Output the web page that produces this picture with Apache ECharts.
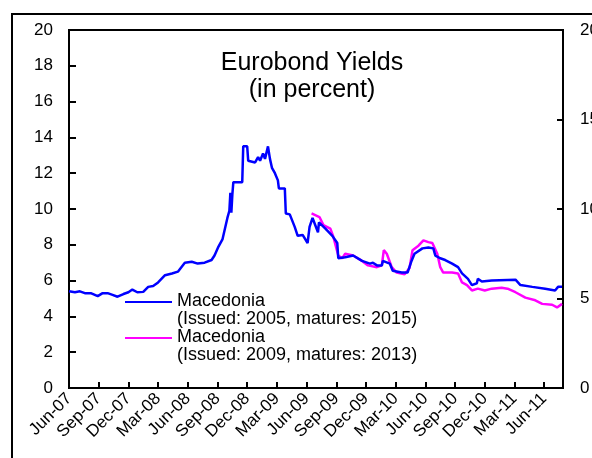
<!DOCTYPE html>
<html>
<head>
<meta charset="utf-8">
<script src="https://cdn.jsdelivr.net/npm/echarts@6/dist/echarts.min.js"></script>
<style>
  html, body { margin: 0; padding: 0; background: #fff; }
  #main { width: 592px; height: 458px; }
</style>
</head>
<body>
<div id="main"></div>
<script>
// x = months since Jun-07, y = yield in percent
var tickLabels = ['Jun-07','Sep-07','Dec-07','Mar-08','Jun-08','Sep-08','Dec-08','Mar-09','Jun-09',
                  'Sep-09','Dec-09','Mar-10','Jun-10','Sep-10','Dec-10','Mar-11','Jun-11'];

var name2015 = 'Macedonia\n(Issued: 2005, matures: 2015)';
var name2013 = 'Macedonia\n(Issued: 2009, matures: 2013)';

var bond2015 = [
  [0.0,5.4],[0.6,5.35],[1.1,5.4],[1.6,5.3],[2.2,5.3],[2.9,5.13],[3.4,5.3],[3.9,5.3],[4.4,5.2],[4.9,5.1],
  [5.5,5.25],[6.0,5.35],[6.4,5.5],[6.9,5.35],[7.5,5.37],[8.0,5.65],[8.5,5.7],[9.0,5.9],[9.7,6.3],
  [10.4,6.4],[11.0,6.5],[11.7,7.0],[12.4,7.05],[13.0,6.95],[13.7,7.0],[14.4,7.15],[14.7,7.4],
  [15.1,7.9],[15.5,8.3],[16.0,9.5],[16.2,9.9],[16.3,10.9],[16.4,9.8],[16.5,10.8],[16.6,11.5],
  [17.5,11.5],[17.6,13.5],[18.0,13.5],[18.1,12.7],[18.8,12.6],[19.1,12.9],[19.3,12.7],[19.6,13.1],
  [19.8,12.8],[20.1,13.5],[20.3,12.8],[20.5,12.3],[20.8,12.0],[21.1,11.6],[21.2,11.15],[21.8,11.15],
  [21.9,9.75],[22.3,9.7],[22.8,9.0],[23.1,8.5],[23.6,8.55],[23.8,8.6],[24.1,8.1],[24.3,9.0],
  [24.6,9.5],[25.15,8.7],[25.25,9.25],[25.9,8.9],[26.6,8.5],[27.1,8.1],[27.2,7.25],[27.9,7.3],
  [28.7,7.4],[29.6,7.1],[30.4,6.95],[30.7,7.0],[31.1,6.85],[31.6,6.85],[31.7,7.1],[32.4,6.95],
  [32.7,6.55],[33.6,6.45],[34.2,6.45],[34.6,7.1],[34.9,7.5],[35.7,7.8],[36.3,7.85],[36.8,7.8],
  [37.0,7.4],[37.5,7.25],[38.0,7.15],[38.7,6.95],[39.3,6.75],[39.7,6.4],[40.3,6.1],[40.7,5.75],
  [41.2,5.85],[41.3,6.1],[41.7,5.95],[42.7,6.0],[45.1,6.05],[45.6,5.75],[46.8,5.65],[48.1,5.55],
  [49.1,5.45],[49.4,5.65],[49.8,5.65]
];

var bond2013 = [
  [24.5,9.75],[25.3,9.55],[25.7,9.1],[26.4,8.9],[26.7,8.45],[27.2,7.4],[27.6,7.25],[27.9,7.5],
  [28.7,7.4],[29.6,7.1],[30.2,6.85],[31.1,6.75],[31.6,6.85],[31.8,7.7],[32.1,7.5],[32.6,6.75],
  [33.1,6.45],[33.9,6.35],[34.4,6.7],[34.7,7.7],[35.3,7.95],[35.8,8.25],[36.3,8.15],[36.7,8.1],
  [37.2,7.5],[37.5,6.75],[37.8,6.45],[38.7,6.45],[39.3,6.4],[39.7,5.9],[40.2,5.75],[40.7,5.45],
  [41.3,5.55],[42.0,5.45],[42.7,5.55],[43.7,5.6],[44.3,5.55],[45.1,5.35],[46.1,5.05],[47.1,4.9],
  [47.8,4.7],[48.8,4.65],[49.3,4.5],[49.8,4.7]
];

var font = 'Liberation Sans, Arial, sans-serif';

var myChart = echarts.init(document.getElementById('main'));

var option = {
  animation: false,
  backgroundColor: '#fff',
  textStyle: { fontFamily: font, color: '#000' },
  title: {
    text: 'Eurobond Yields\n(in percent)',
    left: 307,
    textAlign: 'center',
    top: 45,
    textStyle: { fontFamily: font, fontSize: 25, fontWeight: 'normal', lineHeight: 27, color: '#000' }
  },
  legend: {
    data: [name2015, name2013],
    orient: 'vertical',
    left: 125,
    top: 292,
    padding: 0,
    itemGap: 0,
    itemWidth: 47,
    itemHeight: 18,
    // line sample sits at the top of the icon box, level with the first text line
    icon: 'path://M0,0 L47,0 L47,2 L0,2 Z M0,18 L0.01,18 L0.01,17.99 Z',
    selectedMode: false,
    textStyle: { fontFamily: font, fontSize: 18, lineHeight: 18, color: '#000' }
  },
  grid: {
    left: 69, right: 29, top: 30, bottom: 70,
    outerBoundsMode: 'none',
    show: true, borderColor: '#000', borderWidth: 2, containLabel: false
  },
  graphic: [{
    type: 'rect',
    shape: { x: 12, y: 14, width: 640, height: 520 },
    style: { fill: 'none', stroke: '#000', lineWidth: 2 },
    silent: true
  }],
  xAxis: {
    type: 'value',
    min: 0,
    max: 49.9,
    interval: 3,
    axisLine: { show: true, lineStyle: { color: '#000', width: 2 } },
    axisTick: { show: true, inside: true, length: 6, lineStyle: { color: '#000', width: 2 } },
    splitLine: { show: false },
    axisLabel: {
      rotate: 45,
      margin: 8,
      fontSize: 17,
      color: '#000',
      fontFamily: font,
      showMaxLabel: false,
      formatter: function (v) { return tickLabels[Math.round(v / 3)] || ''; }
    }
  },
  yAxis: [{
    type: 'value',
    min: 0, max: 20, interval: 2,
    axisLine: { show: true, lineStyle: { color: '#000', width: 2 } },
    axisTick: { show: true, inside: true, length: 7, lineStyle: { color: '#000', width: 2 } },
    splitLine: { show: false },
    axisLabel: { margin: 16, fontSize: 17, color: '#000', fontFamily: font }
  }, {
    type: 'value',
    position: 'right',
    min: 0, max: 20, interval: 5,
    axisLine: { show: true, lineStyle: { color: '#000', width: 2 } },
    axisTick: { show: true, inside: true, length: 6, lineStyle: { color: '#000', width: 2 } },
    splitLine: { show: false },
    axisLabel: { margin: 17, fontSize: 17, color: '#000', fontFamily: font }
  }],
  series: [{
    name: name2015,
    type: 'line',
    data: bond2015,
    symbol: 'none',
    color: '#0000ff',
    lineStyle: { color: '#0000ff', width: 2.5 },
    z: 3
  }, {
    name: name2013,
    type: 'line',
    data: bond2013,
    symbol: 'none',
    color: '#ff00ff',
    lineStyle: { color: '#ff00ff', width: 2.5 },
    z: 2
  }]
};

myChart.setOption(option);
</script>
</body>
</html>
